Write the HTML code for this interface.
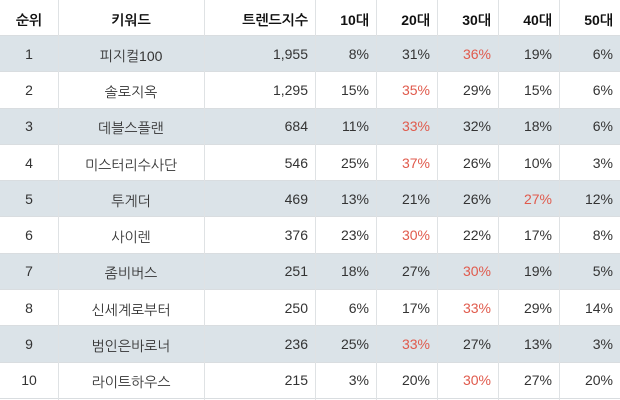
<!DOCTYPE html>
<html>
<head>
<meta charset="utf-8">
<style>
  html, body { margin:0; padding:0; background:#fff; }
  body { width:620px; height:400px; position:relative; overflow:hidden;
         font-family:"Liberation Sans","NanumGothic","Noto Sans CJK KR",sans-serif; font-size:14px; color:#333; }
  .row { position:absolute; left:0; width:620px; box-sizing:border-box; border-bottom:1px solid #d9dde0; }
  .band { background:#dbe3e8; }
  .c { position:absolute; top:0; height:100%; display:flex; align-items:center; box-sizing:border-box; white-space:nowrap; }
  .ctr { justify-content:center; }
  .rt { justify-content:flex-end; padding-right:7px; }
  .hdr { font-weight:bold; color:#111; }
  .hdr .c { padding-top:4px; }
  .kr { padding-top:6px; }
  .red { color:#e05a4c; }
  .vl { position:absolute; top:0; width:1px; height:400px; background:#dfe2e4; }
</style>
</head>
<body>
<div class="row hdr" style="top:0;height:36px;">
  <div class="c ctr" style="left:0;width:58px;">순위</div>
  <div class="c ctr" style="left:58px;width:146px;">키워드</div>
  <div class="c rt" style="left:204px;width:111px;">트렌드지수</div>
  <div class="c rt" style="left:315px;width:61px;">10대</div>
  <div class="c rt" style="left:376px;width:61px;">20대</div>
  <div class="c rt" style="left:437px;width:61px;">30대</div>
  <div class="c rt" style="left:498px;width:61px;">40대</div>
  <div class="c rt" style="left:559px;width:61px;">50대</div>
</div>

<div class="row band" style="top:36px;height:36.3px;">
  <div class="c ctr" style="left:0;width:58px;">1</div>
  <div class="c ctr kr" style="left:58px;width:146px;">피지컬100</div>
  <div class="c rt" style="left:204px;width:111px;">1,955</div>
  <div class="c rt" style="left:315px;width:61px;">8%</div>
  <div class="c rt" style="left:376px;width:61px;">31%</div>
  <div class="c rt red" style="left:437px;width:61px;">36%</div>
  <div class="c rt" style="left:498px;width:61px;">19%</div>
  <div class="c rt" style="left:559px;width:61px;">6%</div>
</div>

<div class="row" style="top:72.3px;height:36.3px;">
  <div class="c ctr" style="left:0;width:58px;">2</div>
  <div class="c ctr kr" style="left:58px;width:146px;">솔로지옥</div>
  <div class="c rt" style="left:204px;width:111px;">1,295</div>
  <div class="c rt" style="left:315px;width:61px;">15%</div>
  <div class="c rt red" style="left:376px;width:61px;">35%</div>
  <div class="c rt" style="left:437px;width:61px;">29%</div>
  <div class="c rt" style="left:498px;width:61px;">15%</div>
  <div class="c rt" style="left:559px;width:61px;">6%</div>
</div>

<div class="row band" style="top:108.6px;height:36.3px;">
  <div class="c ctr" style="left:0;width:58px;">3</div>
  <div class="c ctr kr" style="left:58px;width:146px;">데블스플랜</div>
  <div class="c rt" style="left:204px;width:111px;">684</div>
  <div class="c rt" style="left:315px;width:61px;">11%</div>
  <div class="c rt red" style="left:376px;width:61px;">33%</div>
  <div class="c rt" style="left:437px;width:61px;">32%</div>
  <div class="c rt" style="left:498px;width:61px;">18%</div>
  <div class="c rt" style="left:559px;width:61px;">6%</div>
</div>

<div class="row" style="top:144.9px;height:36.3px;">
  <div class="c ctr" style="left:0;width:58px;">4</div>
  <div class="c ctr kr" style="left:58px;width:146px;">미스터리수사단</div>
  <div class="c rt" style="left:204px;width:111px;">546</div>
  <div class="c rt" style="left:315px;width:61px;">25%</div>
  <div class="c rt red" style="left:376px;width:61px;">37%</div>
  <div class="c rt" style="left:437px;width:61px;">26%</div>
  <div class="c rt" style="left:498px;width:61px;">10%</div>
  <div class="c rt" style="left:559px;width:61px;">3%</div>
</div>

<div class="row band" style="top:181.2px;height:36.3px;">
  <div class="c ctr" style="left:0;width:58px;">5</div>
  <div class="c ctr kr" style="left:58px;width:146px;">투게더</div>
  <div class="c rt" style="left:204px;width:111px;">469</div>
  <div class="c rt" style="left:315px;width:61px;">13%</div>
  <div class="c rt" style="left:376px;width:61px;">21%</div>
  <div class="c rt" style="left:437px;width:61px;">26%</div>
  <div class="c rt red" style="left:498px;width:61px;">27%</div>
  <div class="c rt" style="left:559px;width:61px;">12%</div>
</div>

<div class="row" style="top:217.5px;height:36.3px;">
  <div class="c ctr" style="left:0;width:58px;">6</div>
  <div class="c ctr kr" style="left:58px;width:146px;">사이렌</div>
  <div class="c rt" style="left:204px;width:111px;">376</div>
  <div class="c rt" style="left:315px;width:61px;">23%</div>
  <div class="c rt red" style="left:376px;width:61px;">30%</div>
  <div class="c rt" style="left:437px;width:61px;">22%</div>
  <div class="c rt" style="left:498px;width:61px;">17%</div>
  <div class="c rt" style="left:559px;width:61px;">8%</div>
</div>

<div class="row band" style="top:253.8px;height:36.3px;">
  <div class="c ctr" style="left:0;width:58px;">7</div>
  <div class="c ctr kr" style="left:58px;width:146px;">좀비버스</div>
  <div class="c rt" style="left:204px;width:111px;">251</div>
  <div class="c rt" style="left:315px;width:61px;">18%</div>
  <div class="c rt" style="left:376px;width:61px;">27%</div>
  <div class="c rt red" style="left:437px;width:61px;">30%</div>
  <div class="c rt" style="left:498px;width:61px;">19%</div>
  <div class="c rt" style="left:559px;width:61px;">5%</div>
</div>

<div class="row" style="top:290.1px;height:36.3px;">
  <div class="c ctr" style="left:0;width:58px;">8</div>
  <div class="c ctr kr" style="left:58px;width:146px;">신세계로부터</div>
  <div class="c rt" style="left:204px;width:111px;">250</div>
  <div class="c rt" style="left:315px;width:61px;">6%</div>
  <div class="c rt" style="left:376px;width:61px;">17%</div>
  <div class="c rt red" style="left:437px;width:61px;">33%</div>
  <div class="c rt" style="left:498px;width:61px;">29%</div>
  <div class="c rt" style="left:559px;width:61px;">14%</div>
</div>

<div class="row band" style="top:326.4px;height:36.3px;">
  <div class="c ctr" style="left:0;width:58px;">9</div>
  <div class="c ctr kr" style="left:58px;width:146px;">범인은바로너</div>
  <div class="c rt" style="left:204px;width:111px;">236</div>
  <div class="c rt" style="left:315px;width:61px;">25%</div>
  <div class="c rt red" style="left:376px;width:61px;">33%</div>
  <div class="c rt" style="left:437px;width:61px;">27%</div>
  <div class="c rt" style="left:498px;width:61px;">13%</div>
  <div class="c rt" style="left:559px;width:61px;">3%</div>
</div>

<div class="row" style="top:362.7px;height:36.3px;">
  <div class="c ctr" style="left:0;width:58px;">10</div>
  <div class="c ctr kr" style="left:58px;width:146px;">라이트하우스</div>
  <div class="c rt" style="left:204px;width:111px;">215</div>
  <div class="c rt" style="left:315px;width:61px;">3%</div>
  <div class="c rt" style="left:376px;width:61px;">20%</div>
  <div class="c rt red" style="left:437px;width:61px;">30%</div>
  <div class="c rt" style="left:498px;width:61px;">27%</div>
  <div class="c rt" style="left:559px;width:61px;">20%</div>
</div>

<div class="vl" style="left:58px;"></div>
<div class="vl" style="left:204px;"></div>
<div class="vl" style="left:315px;"></div>
<div class="vl" style="left:376px;"></div>
<div class="vl" style="left:437px;"></div>
<div class="vl" style="left:498px;"></div>
<div class="vl" style="left:559px;"></div>
</body>
</html>
